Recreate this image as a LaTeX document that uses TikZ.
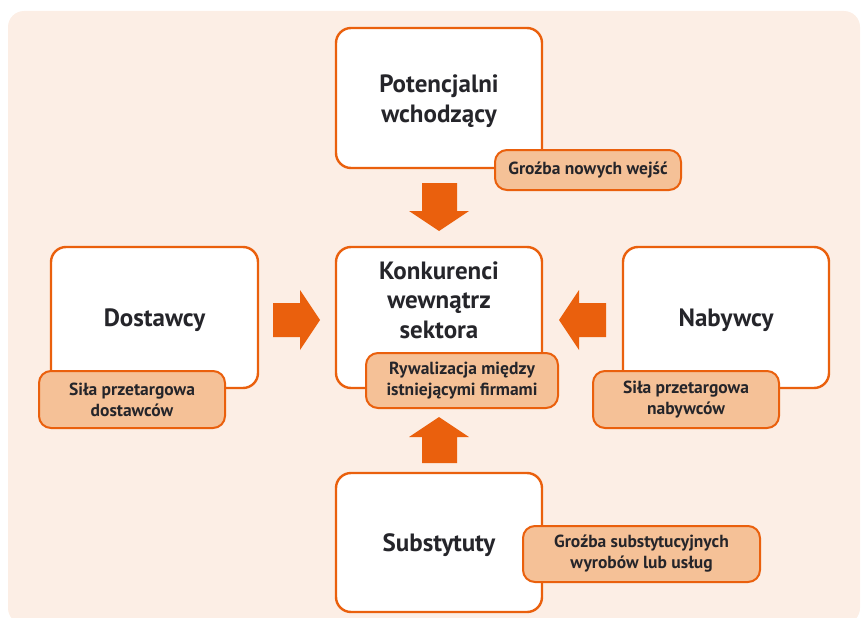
\documentclass[tikz,border=0pt]{standalone}
\usepackage{fontspec}
\setmainfont{PT Sans}
\definecolor{bgpeach}{HTML}{FCEEE5}
\definecolor{forceorange}{HTML}{EA600D}
\definecolor{tagfill}{HTML}{F5C197}
\definecolor{inktext}{HTML}{25252A}
\tikzset{
  force/.style={draw=forceorange, line width=2.4pt, fill=white, rounded corners=15pt,
    minimum width=#1, inner sep=0pt, text=inktext},
  forcetext/.style={align=center, text=inktext, font=\fontsize{25}{29.5}\selectfont\bfseries},
  tag/.style={draw=forceorange, line width=2pt, fill=tagfill, rounded corners=12pt,
    inner sep=0pt, text=inktext, align=center,
    font=\fontsize{17.5}{21}\selectfont\bfseries},
  blockarrow/.style={fill=forceorange, draw=none}
}
\begin{document}
\begin{tikzpicture}[x=1pt, y=-1pt]
\useasboundingbox (0,0) rectangle (862,618);
% backdrop
\fill[bgpeach, rounded corners=16pt] (8,11) rectangle (860,624);

% the five forces
\node[force=206pt, minimum height=140pt] (entrants) at (439,98) {};
\node[forcetext] (entrantsT) at (439,101) {Potencjalni\\wchodzący};
\node[force=207pt, minimum height=141pt] (suppliers) at (154.5,317.5) {};
\node[forcetext] (suppliersT) at (154.5,320) {Dostawcy};
\node[force=206pt, minimum height=141pt] (rivals) at (439,317.5) {};
\node[forcetext] (rivalsT) at (439,300) {Konkurenci\\wewnątrz\\sektora};
\node[force=206pt, minimum height=141pt] (buyers) at (726,317.5) {};
\node[forcetext] (buyersT) at (726,320) {Nabywcy};
\node[force=206pt, minimum height=139pt] (substitutes) at (439,542.5) {};
\node[forcetext] (substitutesT) at (439,545) {Substytuty};

% labels of each force
\node[tag, minimum width=186pt, minimum height=40pt] (entrantsTag) at (588,170) {Groźba nowych wejść};
\node[tag, minimum width=186pt, minimum height=57pt] (suppliersTag) at (132,399.5) {Siła przetargowa\\dostawców};
\node[tag, minimum width=192pt, minimum height=55pt] (rivalsTag) at (462,380.5) {Rywalizacja między\\istniejącymi firmami};
\node[tag, minimum width=186pt, minimum height=57pt] (buyersTag) at (686,399.5) {Siła przetargowa\\nabywców};
\node[tag, minimum width=237pt, minimum height=56pt] (substitutesTag) at (641.5,554) {Groźba substytucyjnych\\wyrobów lub usług};

% block arrows pointing at the rivals
\fill[blockarrow] (422,183) -- (457,183) -- (457,211) -- (469,211) -- (439,231) -- (409,211) -- (422,211) -- cycle;
\fill[blockarrow] (273,303) -- (300,303) -- (300,290) -- (320,320) -- (300,350) -- (300,337) -- (273,337) -- cycle;
\fill[blockarrow] (606,303) -- (579,303) -- (579,290) -- (559,320) -- (579,350) -- (579,337) -- (606,337) -- cycle;
\fill[blockarrow] (422,463) -- (457,463) -- (457,437) -- (469,437) -- (439,417) -- (409,437) -- (422,437) -- cycle;
\end{tikzpicture}
\end{document}
